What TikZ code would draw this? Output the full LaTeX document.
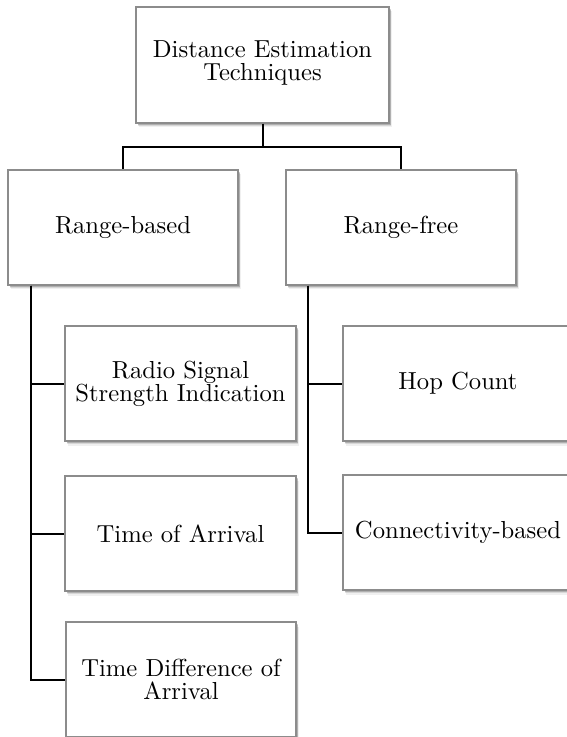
\documentclass[tikz,border=0pt]{standalone}
\usetikzlibrary{shadows,calc}
\begin{document}
\begin{tikzpicture}[x=0.4pt,y=-0.4pt,
  softshadow/.style={
    drop shadow={shadow xshift=1.2pt, shadow yshift=-1.8pt, fill=black, opacity=0.06},
    drop shadow={shadow xshift=0.9pt, shadow yshift=-1.3pt, fill=black, opacity=0.10},
    drop shadow={shadow xshift=0.6pt, shadow yshift=-0.8pt, fill=black, opacity=0.18}},
  box/.style={draw=black!45, line width=0.6pt, fill=white, rectangle,
    align=center, inner sep=0pt,
    font=\fontsize{9.85}{9.2}\selectfont, softshadow},
  wide/.style={box, minimum width=253*0.4pt, minimum height=116*0.4pt},
  std/.style={box, minimum width=230*0.4pt, minimum height=115*0.4pt},
  link/.style={draw=black, line width=0.8pt}]
  % page area
  \fill[white] (0,0) rectangle (566,737);
  \useasboundingbox (0,0) rectangle (566,737);

  % root
  \node[wide] (root) at (262.5,65) {Distance Estimation\\Techniques\rule{0pt}{0pt}\vspace*{2pt}};

  % first level
  \node[std] (rb) at (123,227.5) {Range-based};
  \node[std] (rf) at (401,227.5) {Range-free};

  % range-based methods
  \node[std, minimum width=231*0.4pt] (rssi) at (180.5,383.5) {Radio Signal\\Strength Indication};
  \node[std, minimum width=231*0.4pt] (toa) at (180.5,533.5) {Time of Arrival};
  \node[std] (tdoa) at (181,679.5) {Time Difference of\\Arrival};

  % range-free methods
  \node[std] (hop) at (458,383.5) {Hop Count};
  \node[std] (conn) at (458,532.5) {Connectivity-based};

  % trunk coordinates under the first-level boxes
  \coordinate (rbtrunk) at ($(rb.south west)+(24,0)$);
  \coordinate (rftrunk) at ($(rf.south west)+(23,0)$);
  \coordinate (split) at ($(root.south)+(0,23)$);

  % connectors
  \draw[link] (root.south) -- (split);
  \draw[link] (split) -| (rb.north);
  \draw[link] (split) -| (rf.north);

  \draw[link] (rbtrunk) |- (tdoa.west);
  \draw[link] (rbtrunk) |- (rssi.west);
  \draw[link] (rbtrunk) |- (toa.west);

  \draw[link] (rftrunk) |- (conn.west);
  \draw[link] (rftrunk) |- (hop.west);
\end{tikzpicture}
\end{document}
